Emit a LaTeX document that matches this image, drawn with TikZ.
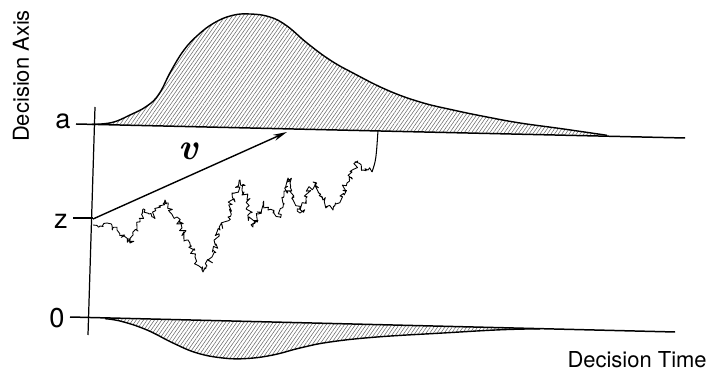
\documentclass[tikz,border=0pt]{standalone}
\usepackage{fontspec}
\setsansfont{TeX Gyre Heros}
\usetikzlibrary{patterns.meta,decorations.pathmorphing,arrows.meta}
\tikzset{
  boundary/.style={line width=0.85pt},
  hatch/.style={pattern={Lines[angle=55,distance=1.7pt,line width=0.3pt]}, pattern color=black!60},
  density/.style={line width=0.8pt},
  walk/.style={line width=0.5pt, line join=round, decorate,
    decoration={random steps, segment length=1.1pt, amplitude=1.9pt}},
  lab/.style={font=\sffamily\fontsize{15.5}{15.5}\selectfont, inner sep=0pt},
  axlab/.style={font=\sffamily\fontsize{12.5}{12.5}\selectfont, inner sep=0pt}
}
\begin{document}
\begin{tikzpicture}[x=0.02cm, y=-0.02cm]
  \useasboundingbox (0,0) rectangle (709,374);
  \pgfmathsetseed{11}

  % Boundaries and axis
  \coordinate (aL) at (76,124);
  \coordinate (aR) at (685,138);
  \coordinate (oL) at (70,317);
  \coordinate (oR) at (675,332);
  \coordinate (axT) at (95,107);
  \coordinate (axB) at (88,335);
  \coordinate (zL) at (73,218);
  \coordinate (zR) at (93,218);
  \coordinate (start) at (93,219);
  \coordinate (drift) at (287,132);
  \coordinate (top) at (372,172);
  \coordinate (hit) at (378,130.5);

  % Upper density
  \path[hatch] plot[smooth, tension=0.7] coordinates {(92,124.4) (112,122.5) (130,115) (147,106) (159,94) (171,71) (184,50) (198,35) (214,23) (232,15.5) (250,14) (270,17) (287,26) (307,43) (330,60) (353,73) (387,90) (420,102) (453,110) (487,117) (520,123) (560,128.5) (607,135.3)} -- cycle;
  \draw[density] plot[smooth, tension=0.7] coordinates {(92,124.4) (112,122.5) (130,115) (147,106) (159,94) (171,71) (184,50) (198,35) (214,23) (232,15.5) (250,14) (270,17) (287,26) (307,43) (330,60) (353,73) (387,90) (420,102) (453,110) (487,117) (520,123) (560,128.5) (607,135.3)};

  % Lower density
  \path[hatch] plot[smooth, tension=0.7] coordinates {(105,318.7) (122,321.5) (147,330) (173,343) (197,353) (223,358) (247,358.5) (273,355) (300,348) (330,342) (377,337) (443,333) (500,329.8) (540,328.8)} -- cycle;
  \draw[density] plot[smooth, tension=0.7] coordinates {(105,318.7) (122,321.5) (147,330) (173,343) (197,353) (223,358) (247,358.5) (273,355) (300,348) (330,342) (377,337) (443,333) (500,329.8) (540,328.8)};

  \draw[boundary] (aL) -- (aR);
  \draw[boundary] (oL) -- (oR);
  \draw[line width=0.7pt] (axT) -- (axB);
  \draw[line width=0.7pt] (zL) -- (zR);

  % Drift arrow
  \draw[line width=0.8pt, -{Stealth[length=8pt, width=3.6pt]}] (start) -- (drift);
  \node[font=\fontsize{21}{21}\selectfont\bfseries\itshape] (nu) at (188,151) {v};

  % Sample path
  \draw[walk] plot coordinates {(93,225) (100,226) (107,223) (112,229) (117,230) (124,236) (130,243) (137,227) (145,210) (149,214) (153,217) (159,206) (165,200) (171,210) (177,217) (182,228) (187,240) (195,257) (199,266) (203,272) (207,266) (212,257) (216,244) (220,230) (224,222) (228,217) (231,204) (235,193) (240,180) (244,192) (247,200) (250,213) (253,227) (258,214) (263,203) (268,210) (273,213) (280,217) (284,196) (288,178) (294,197) (300,213) (306,198) (313,182) (318,192) (323,200) (328,206) (333,210) (340,196) (347,183) (352,172) (357,162) (363,170) (368,170) (372,172)};
  \draw[line width=0.6pt] (top) .. controls (376,160) .. (hit);

  % Labels
  \node[lab] (la) at (63,121) {a};
  \node[lab] (lz) at (61,221) {z};
  \node[lab] (lo) at (57,318) {0};
  \node[axlab, rotate=90] (ylab) at (21,76) {Decision Axis};
  \node[axlab, anchor=base east] (xlab) at (707,367) {Decision Time};
\end{tikzpicture}
\end{document}
